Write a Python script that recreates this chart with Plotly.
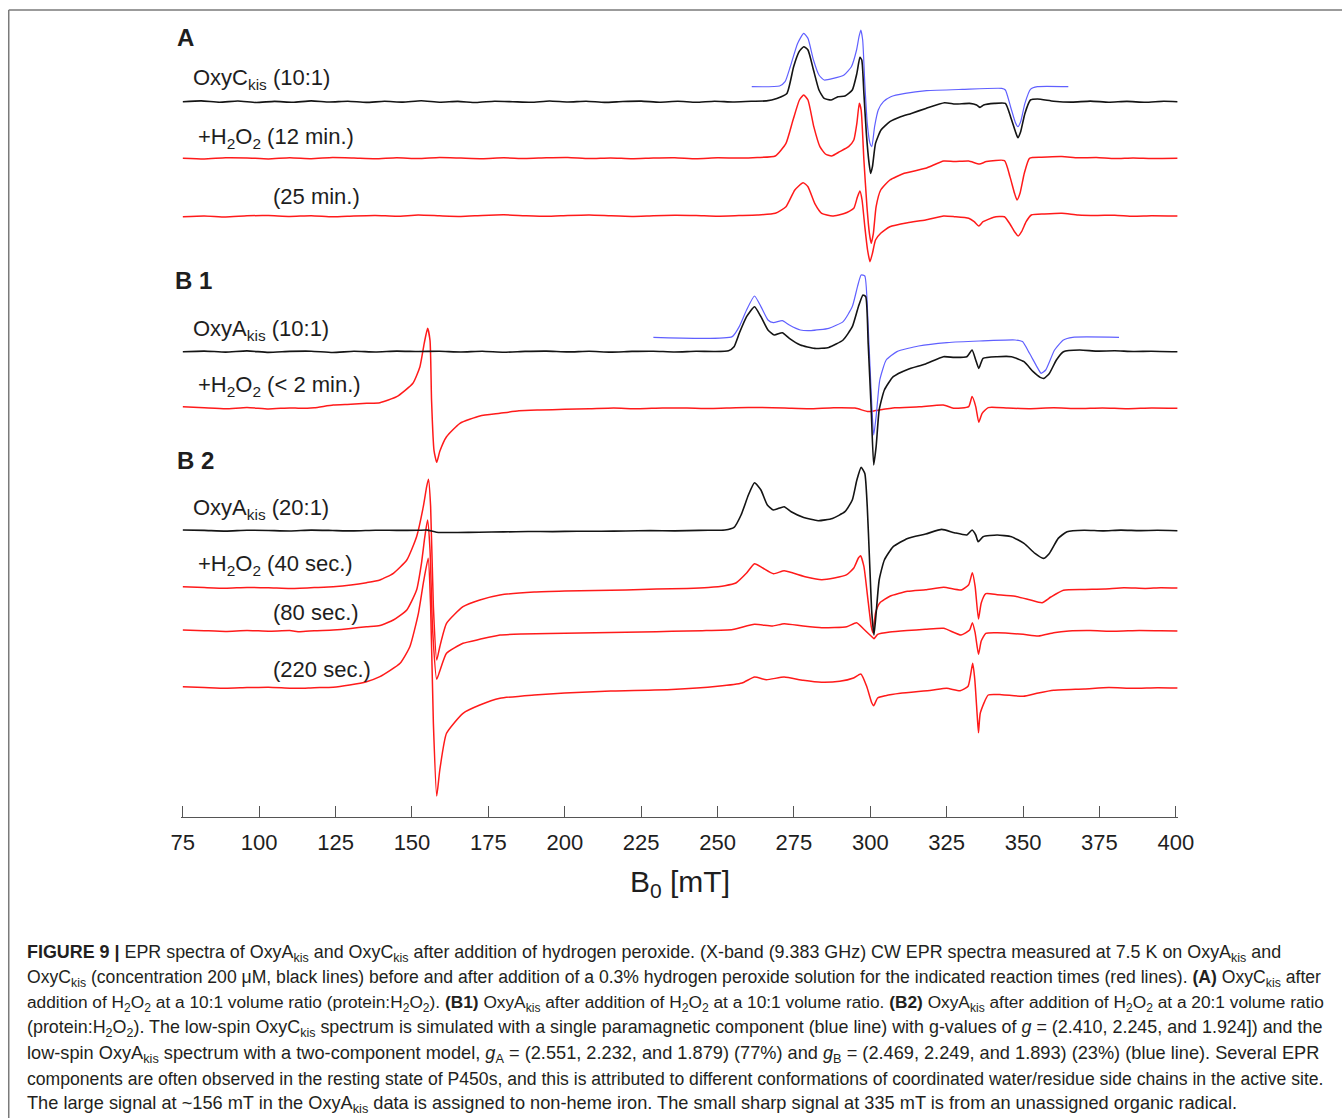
import plotly.graph_objects as go

# ---------------- data (B0 in mT, intensity in arbitrary units) ----------------
A_OXYC_B = [75, 81, 87, 93, 99, 105, 111, 117, 123, 129, 135, 141, 147, 153, 159, 165, 171, 177, 183, 189,
            195, 201, 207, 213, 219, 225, 231, 237, 243, 249, 255, 261, 266,
            269.4, 272.7, 274.9, 276.7, 278.2, 279.6, 281.4, 283.2, 284.9, 287.2, 289.4, 291.7, 294.1, 295.6,
            296.6, 297.2, 297.9, 298.7, 299.6, 300.1, 300.7, 301.7, 303.5, 306.4, 309.9, 313.4, 318.2, 324.3,
            327.8, 332.5, 334.8, 335.9, 337.1, 340.6, 344.2, 345.9, 347.5, 348.3, 349.2, 350.6, 352.4, 354.7,
            360, 366, 372, 378, 384, 390, 396, 400.5]
A_OXYC_I = [0, 0.8, -0.5, 0.7, -0.8, 0.3, -0.6, 0.8, -0.3, 0.5, -0.7, 0.4, -0.4, 0.9, -0.5, 0.3, -0.8, 0.5, 0, -0.6,
            0.7, -0.3, 0.5, -0.7, 0.2, 0.6, -0.5, 0.4, -0.6, 0.5, -0.3, 0.4, 0.8,
            3.3, 8.3, 35, 50, 55, 51.7, 31.7, 11.7, 3.3, 1.7, 5, 5.7, 11.7, 28.3,
            44.3, 41.7, 8.3, -31.7, -61.7, -71.7, -65, -41.7, -28.3, -20, -15, -11.7, -6.7, -1,
            -2.3, -1.7, -3.3, -5.7, -3.3, -1.7, -1.7, -15, -30, -36, -30, -11.7, 1.7, 2.7,
            0.5, -0.4, 0.6, -0.5, 0.3, -0.6, 0.4, 0]

A_SIM_B = [261.2, 270.3, 272.1, 273.8, 276.2, 278.2, 279.6, 281.4, 283.2, 284.9, 287.9, 291.4, 293.8, 295.5,
           296.3, 296.9, 297.5, 298.2, 299.0, 299.9, 300.5, 301.4, 302.6, 304.3, 306.7, 311.4, 318.4, 330.1,
           343.0, 344.2, 345.9, 347.5, 348.3, 349.2, 350.6, 352.4, 354.7, 364.8]
A_SIM_I = [0, 0.7, 5, 20, 43.3, 53.3, 48.3, 26.7, 11.7, 6.7, 8.3, 11.7, 20, 36.7,
           50, 56.7, 46.7, 3.3, -36.7, -56.7, -60, -40, -23.3, -15, -10, -6.7, -4, -2.7,
           -1.7, -3.3, -20, -36, -40, -35, -16.7, -2.7, 0, 0]

A_12MIN_B = [75, 82, 89, 96, 103, 110, 117, 124, 131, 138, 145, 152, 159, 166, 173, 180, 187, 194, 201, 208,
             215, 222, 229, 236, 243, 250, 257, 263,
             268.9, 272.4, 274.7, 276.8, 278.2, 279.6, 281.5, 283.5, 285.3, 287.3, 290.0, 292.9, 294.6, 295.6,
             296.4, 297.0, 297.9, 298.9, 299.7, 300.3, 301.0, 301.9, 303.4, 306.4, 311.1, 318.1, 324.0, 327.5,
             332.2, 335.7, 338.0, 343.9, 345.7, 347.2, 348.0, 349.0, 350.4, 352.1, 356, 362.7,
             368, 374, 380, 386, 392, 400.5]
A_12MIN_I = [0, -0.7, 0.5, 0.3, -0.6, 0.6, -0.4, 0.7, 0.2, -0.5, 0.6, -0.3, 0.8, 0.2, -0.4, 0.5, -0.2, 0.6, 0.9, -0.3,
             0.4, -0.5, 0.3, 0.6, -0.4, 0.5, 0.2, 0.8,
             2.3, 15, 38.3, 58.3, 63.3, 58.3, 31.7, 11.7, 4.3, 2.3, 6.7, 11.7, 18.3, 35,
             55, 48.3, -1.7, -48.3, -75, -85, -75, -48.3, -31.7, -21.7, -15, -10, -2.7, -3.3,
             -2.7, -5.7, -3.3, -2.3, -18.3, -35, -41.7, -35, -15, 0, 1, 1.7,
             0.5, 0.8, -0.3, 0.4, -0.2, 0]

A_25MIN_B = [75, 82, 89, 96, 103, 110, 117, 124, 131, 138, 145, 152, 159, 166, 173, 180, 187, 194, 201, 208,
             215, 222, 229, 236, 243, 250, 257, 263,
             268.9, 272.4, 275.3, 278.0, 279.6, 281.8, 284.1, 287.6, 291.7, 294.6, 295.8, 296.6, 297.3, 298.2,
             299.1, 299.9, 300.7, 301.7, 303.4, 306.4, 312.2, 318.1, 324.0, 327.5, 332.2, 334.0, 335.5, 336.9,
             340.4, 343.9, 345.7, 347.2, 348.4, 349.5, 351.0, 352.7, 357, 362.7,
             368, 374, 380, 386, 392, 400.5]
A_25MIN_I = [-0.7, 0.1, -0.9, 0.2, 0.4, -0.5, 0.3, -0.8, 0.1, 0.6, -0.3, 0.9, 0.2, -0.4, 0.6, 1.2, 0.3, -0.3, 0.5, 1.0,
             0.2, -0.4, 0.3, 0.8, 0.5, -0.2, 0.4, 1.0,
             2.7, 9.3, 26, 33.3, 29.3, 12.7, 2.7, 0, 2.7, 7.7, 19.3, 25, 16, -10.7,
             -34, -45.7, -37.3, -24, -17.3, -10.7, -6.7, -4, 0, -0.7, -2.3, -5.7, -10, -5.7,
             -1.3, -0.7, -8, -15.7, -20, -15.7, -5.7, 1, 2, 2.7,
             1, 0.5, 0.8, -0.2, 0.3, 0]

B1_OXYA_B = [75, 82, 89, 96, 103, 110, 117, 124, 131, 138, 145, 152, 159, 166, 173, 180, 187, 194, 201, 208,
             215, 222, 229, 236, 243, 249,
             253.6, 255.4, 257.1, 259.5, 262.1, 264.2, 266.5, 268.6, 271.2, 273.5, 277.1, 281.8, 286.4, 291.1,
             294.1, 296.1, 297.6, 298.5, 299.3, 300.3, 301.1, 301.9, 302.9, 304.6, 307.5, 312.2, 318.1, 323.9,
             327.5, 331.6, 333.3, 334.5, 335.5, 336.9, 341.5, 346.2, 350.3, 353.3, 355.6, 356.8, 358.6, 360.9,
             363.2, 368.5, 374, 380, 386, 392, 400.5]
B1_OXYA_I = [0, 0.6, -0.4, 0.8, -0.7, 0.3, 0.5, -0.8, 0.4, -0.3, 0.6, 0.2, 0.4, -0.3, 0.5, -0.5, 0.3, 0.6, -0.2, 0.4,
             -0.4, 0.3, 0.5, -0.3, 0.4, 0.2,
             1, 5, 18.3, 35, 45, 35, 21.7, 16.7, 19, 13.3, 6.7, 3.3, 4.3, 11.7,
             25, 45, 56.7, 55, 8.3, -58.3, -113.3, -95, -58.3, -38.3, -25, -17.7, -12.3, -5,
             -5.7, -5, 1.7, -8.3, -16.7, -6.7, -5, -5, -10, -20, -25.7, -26.7, -21.7, -8.3,
             0, 1.7, 0.6, 0.9, 0.2, 0.5, 0]

B1_SIM_B = [229.0, 254.8, 257.1, 259.5, 262.1, 264.2, 266.5, 268.3, 271.2, 273.5, 277.1, 280.6, 286.4, 291.1,
            294.1, 295.8, 297.0, 298.2, 299.3, 300.3, 301.1, 301.9, 303.1, 305.2, 308.7, 315.8, 325.1, 335.7,
            347.4, 349.8, 352.1, 354.5, 355.9, 357.4, 360.3, 363.2, 366.2, 381.4]
B1_SIM_I = [0, 0.7, 10.7, 27.3, 41.3, 30.7, 17.3, 14.7, 16.7, 12.3, 7.3, 6.7, 9, 15.7,
            30.7, 50.7, 62.3, 61.3, 10.7, -56, -97.7, -79.3, -42.7, -22.7, -14.3, -8.7, -5.3, -3.7,
            -2.7, -4.3, -16, -29.3, -36, -32.7, -12.7, -2.7, 0, 0]

B1_2MIN_B = [75, 82, 89, 96, 103, 110, 113.3, 118, 124.2, 130, 135.2, 139.5, 145, 150.3, 152.6, 154.0, 155.1,
             155.9, 156.4, 157.2, 158.1, 159.1, 161.3, 165.7, 172.2, 178.8, 185, 191.9, 200, 208, 216, 224,
             232, 240, 248, 256, 264, 272, 280, 288, 295, 299.3, 301.7, 308, 316, 323.9, 327.5, 332.2, 333.3,
             334.5, 335.5, 336.6, 338.6, 345, 352, 360, 368, 376, 384, 392, 400.5]
B1_2MIN_I = [1.5, 0.5, -0.5, 0.8, -0.6, 0.4, 0, 0.6, 3.3, 4, 5, 5.6, 11.6, 25, 41.6, 65, 80,
             68, 8, -42, -54, -43, -28.4, -15, -7.7, -5, -2.5, -1.7, -1, -0.5, 0.3, -0.5,
             0.4, 0.2, -0.3, 0.5, 0.8, 0.3, -0.4, 0.6, 0.2, -3.3, -2.3, 0.5, 1.5, 3.3, 0, 1.7, 11.7,
             1.7, -14, -5, 0.7, 0.2, -0.4, 0.5, -0.3, 0.4, -0.5, 0.3, 0]

B2_OXYA_B = [75, 82, 89, 96, 103, 110, 117, 124, 131, 138, 145, 152, 155, 158, 165, 172, 180, 188, 196, 204,
             212, 220, 228, 236, 244, 250,
             252.4, 255.4, 257.7, 260.1, 262.1, 264.2, 266.3, 268.3, 271.8, 274.1, 278.2, 282.9, 287.6, 291.7,
             294.1, 295.6, 297.0, 298.2, 299.0, 299.7, 300.5, 301.2, 301.9, 302.9, 304.6, 307.5, 312.2, 318.1,
             323.4, 327.5, 331.6, 333.3, 334.5, 335.3, 336.9, 341.5, 346.2, 350.3, 353.9, 356.6, 358.6, 361.5,
             364.4, 370, 376, 382, 388, 394, 400.5]
B2_OXYA_I = [0.7, 0.3, -0.4, 0.5, 0.2, -0.3, 0.6, 0.2, -0.2, 0.5, 0.3, 0.4, 0.6, -1.5, -1.8, -1.5, -1.2, -0.8, -0.9, -0.5,
             -0.6, -0.3, 0.2, -0.2, 0.3, 0.5,
             0.7, 3.3, 15.7, 35.7, 48, 40.7, 25.7, 20.7, 24, 19, 13.3, 10, 12.3, 19,
             30.7, 50.7, 63.3, 57.3, 24, -26, -82.7, -104.3, -82.7, -49.3, -29.3, -16, -7.7, -3.3,
             1.3, -2, -4.3, 0.7, -4.3, -11, -6, -4.3, -6, -12.7, -22.7, -27.7, -22.7, -7.7,
             -1, 0.5, -0.2, 0.6, 0.1, 0.4, 0]

B2_40S_B = [75, 82, 89, 96, 103, 110, 113.3, 118, 124.2, 130, 135.1, 139.5, 143.9, 148.3, 151.5, 153.7, 154.8,
            155.4, 156.1, 157.0, 158.1, 159.1, 161.3, 166.7, 172.2, 178.8, 190, 200, 210, 220, 230, 240, 247,
            252.4, 256, 259.5, 262.1, 264.8, 268.3, 271.8, 274.7, 279.4, 284.1, 288.2, 292.3, 294.6, 296.1,
            296.8, 297.9, 299.1, 300.3, 300.9, 301.7, 303.1, 306.4, 312.2, 318.1, 324.0, 329.8, 332.2, 333.4,
            334.3, 335.4, 336.3, 337.8, 341.5, 347.4, 352.1, 356.2, 359.1, 363.2, 370, 376.7, 383, 390, 395, 400.5]
B2_40S_I = [1.3, 0.4, -0.3, 0.6, 0.2, -0.5, -0.3, 0.4, 1.3, 3, 5.3, 8, 14.7, 28, 51.3, 81.3, 101.3,
            108.7, 81.3, -18.7, -72, -58.7, -35.3, -18.7, -12, -7, -4, -3, -2.5, -2, -1, -0.5, 0.5,
            2.3, 5, 15, 24.3, 20, 14.3, 17.3, 15, 10.7, 8.3, 10, 13.3, 20, 30,
            32.3, 21.7, -8.3, -38.3, -45, -25, -15, -8.3, -3.3, -1.7, 0.7, -2, 3.3, 15.3,
            1.7, -31, -15, -5.7, -6.7, -8.3, -11.7, -14.7, -9, -2.3, -1.5, -1, 0.3, -0.4, 0.3, 0]

B2_80S_B = [75, 82, 89, 96, 103, 110, 113.3, 118, 124.2, 130, 135.1, 139.5, 143.9, 148.3, 151.5, 153.1, 154.2,
            155.1, 155.9, 156.7, 158.1, 159.1, 161.3, 166.7, 172.2, 178.8, 186, 195, 205, 215, 225, 235, 245,
            255, 262.1, 268, 271.8, 278, 284.1, 292.3, 295.5, 297.9, 300.5, 301.2, 302.4, 306.4, 312, 318,
            324, 329.7, 332.5, 333.4, 334.3, 335.4, 336.3, 337.8, 341.5, 350, 355, 360, 365, 372, 380, 388,
            395, 400.5]
B2_80S_I = [1, 0.3, -0.4, 0.5, -0.2, 0.4, -0.7, 0.3, 1, 2.5, 4.3, 5.5, 11, 21, 41, 67.7, 94.3,
            111, 81, 4.3, -48.3, -40, -22.3, -12.3, -8.3, -4, -3, -2.5, -2, -1.5, -1, -0.3, 0.3,
            1.5, 6.7, 5, 7.3, 5, 3.3, 4.3, 8.3, 1.7, -5.7, -7.7, -3.3, -1, 0.5, 1.7,
            2.7, -4, 1, 8.3, -1.7, -23.3, -10, -2.3, -1.7, -3.3, -5, -1.7, 0, 0.4, -0.3, 0.5,
            0.2, 0]

B2_220S_B = [75, 82, 89, 96, 103, 110, 113.3, 118, 124.2, 129.6, 135.1, 139.5, 146.1, 149.3, 152.1, 153.7,
             155.3, 156.1, 157.0, 158.1, 159.1, 161.3, 166.7, 172.2, 178.8, 190, 200, 215, 235, 250, 258,
             262.1, 266, 271.8, 278, 284, 290, 294.5, 296.9, 298.8, 300.5, 301.1, 302.4, 305, 309.8, 320, 325,
             329.4, 332, 333.5, 334.2, 335.0, 335.4, 336, 338.6, 343, 350, 355, 360, 370, 378, 386, 394, 400.5]
B2_220S_I = [1.3, 0.5, -0.3, 0.4, 0.8, -0.2, -0.3, 0.3, 0.7, 3, 6.3, 11.3, 24.7, 41.3, 74.7, 104.7,
             129.7, 81.3, -35.3, -108, -82, -45.3, -25.3, -17, -10.3, -7, -5, -3, -1.5, 1.7, 5,
             11, 8.3, 11, 7.7, 5.7, 6.7, 10, 14, 1.7, -15, -17.7, -10, -7.7, -5.3, -2.3, -0.3,
             -2.7, 1.7, 24.7, 8.3, -28.3, -44.7, -25, -7, -6.7, -8.3, -5, -2.3, -1, 0.4, -0.3, 0.3, 0]

TICK_VALUES = [75, 100, 125, 150, 175, 200, 225, 250, 275, 300, 325, 350, 375, 400]
TICK_LABELS = [str(v) for v in TICK_VALUES]

# ---------------- layout geometry (pixels) ----------------
W, H = 1342, 1118
X0, X1 = 74.4, 400.7
PX_PER_MT = 3.054
L = 183 - (75 - X0) * PX_PER_MT
PW = (X1 - X0) * PX_PER_MT
R = W - L - PW
AXIS_Y = 817          # pixel row of the x axis line
PLOT_H = AXIS_Y       # plot area spans rows 0 .. AXIS_Y


def pxx(p):
    return (p - L) / PW


def pxy(p):
    return (AXIS_Y - p) / PLOT_H


BLACK = "#141414"
RED = "#ff1a1a"
BLUE = "#6060ff"

# (B, I, baseline row in px, colour, width)
traces = [
    (A_12MIN_B, A_12MIN_I, 158.3, RED, 1.5),
    (A_25MIN_B, A_25MIN_I, 216.0, RED, 1.5),
    (A_SIM_B, A_SIM_I, 86.7, BLUE, 1.2),
    (A_OXYC_B, A_OXYC_I, 101.7, BLACK, 1.6),
    (B1_2MIN_B, B1_2MIN_I, 408.3, RED, 1.5),
    (B1_SIM_B, B1_SIM_I, 337.3, BLUE, 1.2),
    (B1_OXYA_B, B1_OXYA_I, 351.7, BLACK, 1.6),
    (B2_40S_B, B2_40S_I, 588.0, RED, 1.5),
    (B2_80S_B, B2_80S_I, 631.0, RED, 1.5),
    (B2_220S_B, B2_220S_I, 688.0, RED, 1.5),
    (B2_OXYA_B, B2_OXYA_I, 530.7, BLACK, 1.6),
]

fig = go.Figure()
for bx, iy, base, col, lw in traces:
    if len(bx) != len(iy):
        raise ValueError(f"length mismatch {len(bx)} vs {len(iy)} at baseline {base}")
    off = AXIS_Y - base
    fig.add_trace(go.Scatter(x=bx, y=[off + v for v in iy], mode="lines",
                             line=dict(color=col, width=lw, shape="spline", smoothing=0.5),
                             hoverinfo="skip", showlegend=False))

FONT = "Liberation Sans, Arial, Helvetica, sans-serif"
TXT = "#1e1e1e"
ann = []


def label(text, x, y, size, anchor="left", color=TXT):
    ann.append(dict(text=text, x=pxx(x), y=pxy(y), xref="paper", yref="paper",
                    xanchor=anchor, yanchor="middle", showarrow=False,
                    font=dict(family=FONT, size=size, color=color)))


label("<b>A</b>", 175, 37, 24)
label("<b>B 1</b>", 173, 280, 24)
label("<b>B 2</b>", 175, 460, 24)

label("OxyC<sub>kis</sub> (10:1)", 191, 79, 22)
label("+H<sub>2</sub>O<sub>2</sub> (12 min.)", 196, 138, 22)
label("(25 min.)", 271, 196, 22)
label("OxyA<sub>kis</sub> (10:1)", 191, 330, 22)
label("+H<sub>2</sub>O<sub>2</sub> (< 2 min.)", 196, 386, 22)
label("OxyA<sub>kis</sub> (20:1)", 191, 509, 22)
label("+H<sub>2</sub>O<sub>2</sub> (40 sec.)", 196, 565, 22)
label("(80 sec.)", 271, 612, 22)
label("(220 sec.)", 271, 669, 22)

label("B<sub>0</sub> [mT]", 680, 883, 30, anchor="center")

CAPTION = [
    "<b>FIGURE 9 |</b> EPR spectra of OxyA<sub>kis</sub> and OxyC<sub>kis</sub> after addition of hydrogen peroxide. "
    "(X-band (9.383 GHz) CW EPR spectra measured at 7.5 K on OxyA<sub>kis</sub> and",
    "OxyC<sub>kis</sub> (concentration 200 μM, black lines) before and after addition of a 0.3% hydrogen peroxide "
    "solution for the indicated reaction times (red lines). <b>(A)</b> OxyC<sub>kis</sub> after",
    "addition of H<sub>2</sub>O<sub>2</sub> at a 10:1 volume ratio (protein:H<sub>2</sub>O<sub>2</sub>). "
    "<b>(B1)</b> OxyA<sub>kis</sub> after addition of H<sub>2</sub>O<sub>2</sub> at a 10:1 volume ratio. "
    "<b>(B2)</b> OxyA<sub>kis</sub> after addition of H<sub>2</sub>O<sub>2</sub> at a 20:1 volume ratio",
    "(protein:H<sub>2</sub>O<sub>2</sub>). The low-spin OxyC<sub>kis</sub> spectrum is simulated with a single "
    "paramagnetic component (blue line) with g-values of <i>g</i> = (2.410, 2.245, and 1.924]) and the",
    "low-spin OxyA<sub>kis</sub> spectrum with a two-component model, <i>g</i><sub>A</sub> = (2.551, 2.232, and 1.879) "
    "(77%) and <i>g</i><sub>B</sub> = (2.469, 2.249, and 1.893) (23%) (blue line). Several EPR",
    "components are often observed in the resting state of P450s, and this is attributed to different "
    "conformations of coordinated water/residue side chains in the active site.",
    "The large signal at ~156 mT in the OxyA<sub>kis</sub> data is assigned to non-heme iron. The small sharp "
    "signal at 335 mT is from an unassigned organic radical.",
]
CAP_Y = [953, 978, 1003, 1028, 1054, 1079, 1104]
CAP_SIZE = [17.9, 17.6, 17.3, 17.9, 18.2, 17.6, 18.2]
for t, y, s in zip(CAPTION, CAP_Y, CAP_SIZE):
    label(t, 25, y, s, color="#231f20")

shapes = [
    dict(type="line", xref="paper", yref="paper", x0=pxx(9), x1=pxx(1342), y0=pxy(10), y1=pxy(10),
         line=dict(color="#7a7a7a", width=1.5)),
    dict(type="line", xref="paper", yref="paper", x0=pxx(9), x1=pxx(9), y0=pxy(10), y1=pxy(1118),
         line=dict(color="#7a7a7a", width=1.5)),
]

fig.update_layout(
    width=W, height=H,
    margin=dict(l=L, r=R, t=0, b=H - AXIS_Y, pad=0),
    paper_bgcolor="white", plot_bgcolor="white",
    annotations=ann, shapes=shapes, showlegend=False,
    xaxis=dict(range=[X0, X1], tickvals=TICK_VALUES, ticktext=TICK_LABELS,
               ticks="inside", ticklen=11, tickwidth=1, tickcolor="#555555",
               showline=True, linecolor="#555555", linewidth=1,
               showgrid=False, zeroline=False, ticklabelstandoff=6,
               tickfont=dict(family=FONT, size=22, color=TXT)),
    yaxis=dict(range=[0, PLOT_H], visible=False, showgrid=False, zeroline=False),
)

fig.write_html("out.html")
